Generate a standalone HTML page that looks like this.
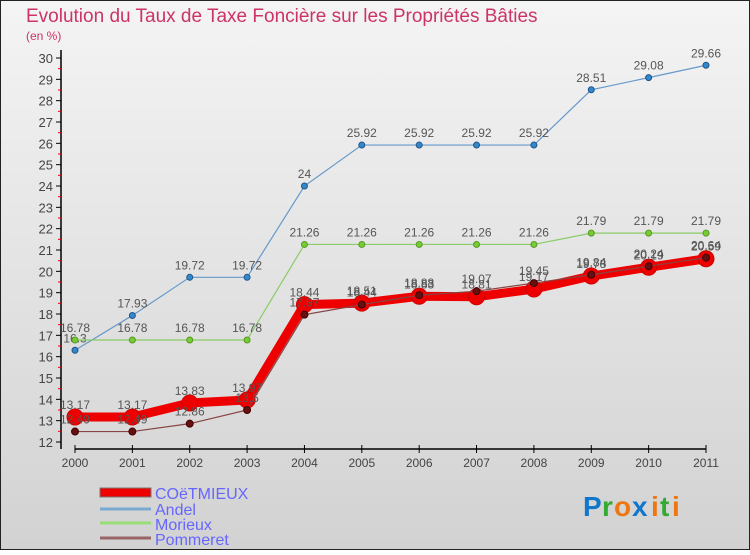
<!DOCTYPE html>
<html><head><meta charset="utf-8"><style>
body{margin:0;width:750px;height:550px;overflow:hidden;font-family:"Liberation Sans",sans-serif}
</style></head><body>
<svg width="750" height="550" viewBox="0 0 750 550">
<defs><linearGradient id="bg" x1="0" y1="0" x2="0" y2="1"><stop offset="0" stop-color="#f4f4f4"/><stop offset="1" stop-color="#d2d2d2"/></linearGradient></defs>
<rect x="0.5" y="0.5" width="749" height="549" fill="url(#bg)" stroke="#222"/>
<text x="26" y="22" font-size="19" fill="#cc3366">Evolution du Taux de Taxe Foncière sur les Propriétés Bâties</text>
<text x="26" y="40" font-size="12" fill="#cc3366">(en %)</text>
<g id="axes"></g>
<g id="series"></g>
<g>
<rect x="100" y="488" width="51" height="9" fill="#ee0000" stroke="#777" stroke-width="1"/>
<text x="155" y="499" font-size="16" fill="#6666ff">COëTMIEUX</text>
<line x1="100" y1="509" x2="151" y2="509" stroke="#7aaad0" stroke-width="3"/>
<text x="155" y="515" font-size="16" fill="#6666ff">Andel</text>
<line x1="100" y1="523" x2="151" y2="523" stroke="#99dd77" stroke-width="3"/>
<text x="155" y="530" font-size="16" fill="#6666ff">Morieux</text>
<line x1="100" y1="538" x2="151" y2="538" stroke="#996666" stroke-width="3"/>
<text x="155" y="545" font-size="16" fill="#6666ff">Pommeret</text>
</g>
<g font-size="28" font-weight="bold">
<text x="583" y="516" fill="#1177cc">P</text><text x="602" y="516" fill="#33aa33">r</text><text x="614" y="516" fill="#ee7711">o</text><text x="632" y="516" fill="#1177cc">x</text><text x="651" y="516" fill="#ee7711">i</text><text x="660" y="516" fill="#33aa33">t</text><text x="672" y="516" fill="#ee7711">i</text>
</g>
</svg>
<script>
const years=["2000","2001","2002","2003","2004","2005","2006","2007","2008","2009","2010","2011"];
const coetmieux=[13.17,13.17,13.83,13.97,18.44,18.51,18.83,18.81,19.17,19.78,20.19,20.59];
const andel=[16.3,17.93,19.72,19.72,24,25.92,25.92,25.92,25.92,28.51,29.08,29.66];
const morieux=[16.78,16.78,16.78,16.78,21.26,21.26,21.26,21.26,21.26,21.79,21.79,21.79];
const pommeret=[12.49,12.49,12.86,13.5,17.97,18.44,18.88,19.07,19.45,19.84,20.24,20.64];
const yTicks=[12,13,14,15,16,17,18,19,20,21,22,23,24,25,26,27,28,29,30];
const NS="http://www.w3.org/2000/svg";
const xS=i=>75+i*(706-75)/11;
const yS=v=>442-(v-12)*(442-58)/18;
function mk(t,a,p){const e=document.createElementNS(NS,t);for(const k in a)e.setAttribute(k,a[k]);p.appendChild(e);return e;}
const ax=document.getElementById('axes');
let l=mk('line',{x1:61,y1:50,x2:61,y2:449,stroke:'#000','stroke-width':1.5},ax);


l=mk('line',{x1:75,y1:449,x2:706,y2:449,stroke:'#000','stroke-width':1.5},ax);


yTicks.forEach(v=>{
 mk('line',{x1:56,y1:yS(v),x2:61,y2:yS(v),stroke:'#000'},ax);
 if(v<30) mk('line',{x1:58,y1:yS(v+0.5),x2:61,y2:yS(v+0.5),stroke:'#e00'},ax);
 const t=mk('text',{x:53,y:yS(v)+5,'font-size':13,fill:'#444','text-anchor':'end'},ax);
 t.textContent=v;
 
 
});
years.forEach((y,i)=>{
 mk('line',{x1:xS(i),y1:445,x2:xS(i),y2:453,stroke:'#000'},ax);
 const t=mk('text',{x:xS(i),y:467,'font-size':12,fill:'#444','text-anchor':'middle'},ax);
 t.textContent=y;
 
 
});
const sg=document.getElementById('series');
function draw(data,name,color,w,r,fill,stroke){
 const g=mk('g',{},sg);
 
 
 const p=mk('polyline',{points:data.map((v,i)=>xS(i)+','+yS(v)).join(' '),fill:'none',stroke:color,'stroke-width':w},g);
 
 
 data.forEach((v,i)=>{
  const c=mk('circle',{cx:xS(i),cy:yS(v),r:r,fill:fill,stroke:stroke,'stroke-width':1},g);
  
  
  const t=mk('text',{x:xS(i),y:yS(v)-8,'font-size':12,fill:'#555','text-anchor':'middle'},g);
  t.textContent=v;
  
  
 });
}
draw(andel,'andel','#6699cc',1.2,3,'#3388cc','#225588');
draw(morieux,'morieux','#88cc66',1.2,3,'#77cc33','#559922');
draw(coetmieux,'coetmieux','#ee0000',9,8,'#ee0000','#cc0000');
draw(pommeret,'pommeret','#884444',1.2,3.5,'#661111','#440000');
</script>
</body></html>
